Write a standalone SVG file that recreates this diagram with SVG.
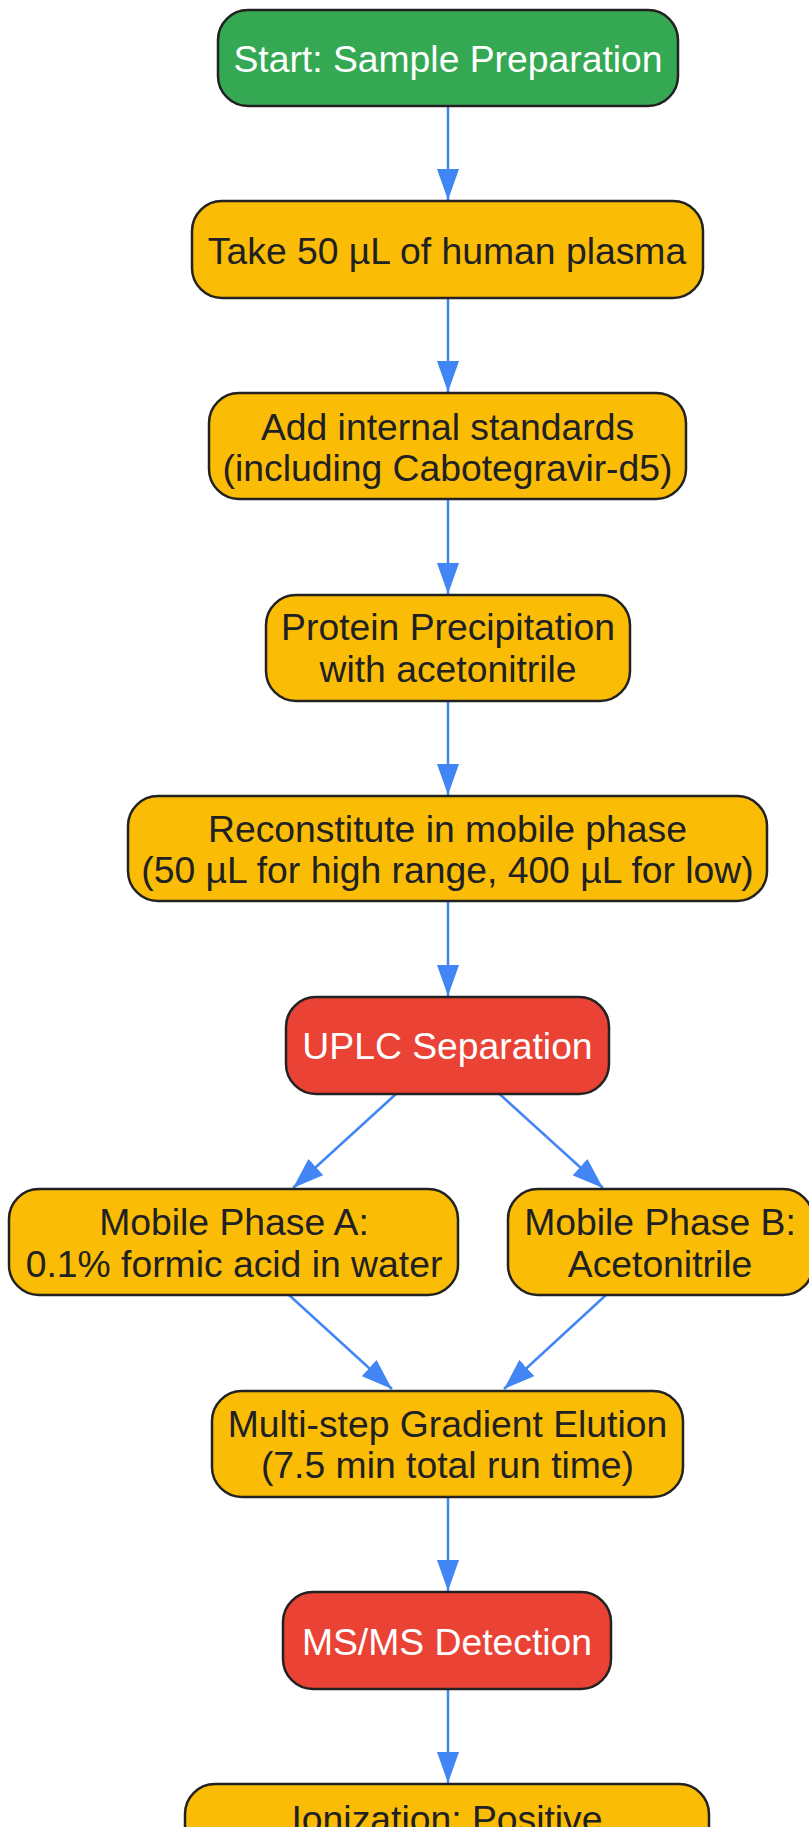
<svg xmlns="http://www.w3.org/2000/svg" width="809" height="1827" viewBox="0 0 809 1827">
<style>
.n rect{stroke:#222;stroke-width:2.5}
.g rect{fill:#34A853}
.y rect{fill:#FBBC05}
.r rect{fill:#EA4335}
text{font-family:"Liberation Sans",Arial,sans-serif;font-size:37.3px;text-anchor:middle;fill:#202124}
.g text,.r text{fill:#ffffff}
.e line{stroke:#4285F4;stroke-width:2.5;fill:none}
</style>
<defs>
<marker id="ah" markerUnits="userSpaceOnUse" markerWidth="31" markerHeight="22" refX="31" refY="11" orient="auto">
<path d="M0,0 L31,11 L0,22 z" fill="#4285F4"/>
</marker>
</defs>
<rect width="809" height="1827" fill="#ffffff"/>
<g id="edges" class="e">
<line x1="448" y1="106" x2="448" y2="200" marker-end="url(#ah)"/>
<line x1="448" y1="298" x2="448" y2="392" marker-end="url(#ah)"/>
<line x1="448" y1="499" x2="448" y2="594" marker-end="url(#ah)"/>
<line x1="448" y1="701" x2="448" y2="795" marker-end="url(#ah)"/>
<line x1="448" y1="901" x2="448" y2="996" marker-end="url(#ah)"/>
<line x1="396" y1="1094" x2="293" y2="1188" marker-end="url(#ah)"/>
<line x1="499.5" y1="1094" x2="603" y2="1188" marker-end="url(#ah)"/>
<line x1="289" y1="1295" x2="392" y2="1389" marker-end="url(#ah)"/>
<line x1="606" y1="1295" x2="504" y2="1389" marker-end="url(#ah)"/>
<line x1="448" y1="1497" x2="448" y2="1591" marker-end="url(#ah)"/>
<line x1="448" y1="1689" x2="448" y2="1783" marker-end="url(#ah)"/>
</g>
<g id="start" class="n g"><rect x="218" y="10" width="460" height="96" rx="30"/><text x="448" y="72">Start: Sample Preparation</text></g>
<g id="take" class="n y"><rect x="192" y="201" width="511" height="97" rx="30"/><text x="447" y="264">Take 50 µL of human plasma</text></g>
<g id="add" class="n y"><rect x="209" y="393" width="477" height="106" rx="30"/><text x="447.5" y="440">Add internal standards</text><text x="447.5" y="481">(including Cabotegravir-d5)</text></g>
<g id="protein" class="n y"><rect x="266" y="595" width="364" height="106" rx="30"/><text x="448" y="640">Protein Precipitation</text><text x="448" y="682">with acetonitrile</text></g>
<g id="recon" class="n y"><rect x="128" y="796" width="639" height="105" rx="30"/><text x="447.5" y="842">Reconstitute in mobile phase</text><text x="447.5" y="883">(50 µL for high range, 400 µL for low)</text></g>
<g id="uplc" class="n r"><rect x="286" y="997" width="323" height="97" rx="30"/><text x="447.5" y="1059">UPLC Separation</text></g>
<g id="mpa" class="n y"><rect x="9" y="1189" width="449" height="106" rx="30"/><text x="234" y="1235">Mobile Phase A:</text><text x="234" y="1277">0.1% formic acid in water</text></g>
<g id="mpb" class="n y"><rect x="508" y="1189" width="305" height="106" rx="30"/><text x="660" y="1235">Mobile Phase B:</text><text x="660" y="1277">Acetonitrile</text></g>
<g id="gradient" class="n y"><rect x="212" y="1391" width="471" height="106" rx="30"/><text x="447.5" y="1437">Multi-step Gradient Elution</text><text x="447.5" y="1478">(7.5 min total run time)</text></g>
<g id="msms" class="n r"><rect x="283" y="1592" width="328" height="97" rx="30"/><text x="447" y="1655">MS/MS Detection</text></g>
<g id="ion" class="n y"><rect x="185" y="1784" width="524" height="106" rx="30"/><text x="447" y="1832">Ionization: Positive</text></g>
</svg>
